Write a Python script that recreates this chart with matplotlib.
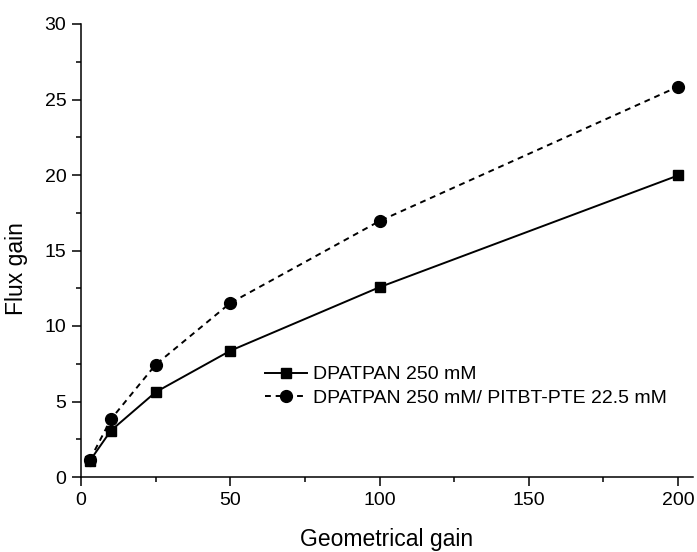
import numpy as np
import matplotlib
matplotlib.use('Agg')
import matplotlib.pyplot as plt
from matplotlib.ticker import MultipleLocator

plt.rcParams['font.family'] = ['Liberation Sans', 'DejaVu Sans']

geo_gain = [3, 10, 25, 50, 100, 200]
flux_dpatpan = [1.08, 3.07, 5.62, 8.36, 12.57, 19.97]
flux_dpatpan_pitbt = [1.15, 3.82, 7.44, 11.52, 16.95, 25.85]
label_1 = 'DPATPAN 250 mM'
label_2 = 'DPATPAN 250 mM/ PITBT-PTE 22.5 mM'

fig = plt.figure(figsize=(6.97, 5.52), dpi=100)
ax = fig.add_axes([81/697, 1 - 477/552, 612/697, 453/552])

ax.plot(geo_gain, flux_dpatpan, '-', color='black', lw=1.4,
        marker='s', markersize=7.5, label=label_1)
ax.plot(geo_gain, flux_dpatpan_pitbt, '--', color='black', lw=1.4,
        dashes=(3, 2.5), marker='o', markersize=8.5, label=label_2)

ax.set_xlim(0, 205)
ax.set_ylim(0, 30)
ax.xaxis.set_major_locator(MultipleLocator(50))
ax.xaxis.set_minor_locator(MultipleLocator(25))
ax.yaxis.set_major_locator(MultipleLocator(5))
ax.yaxis.set_minor_locator(MultipleLocator(2.5))

for s in ['top', 'right']:
    ax.spines[s].set_visible(False)
for s in ['left', 'bottom']:
    ax.spines[s].set_linewidth(1.1)

ax.tick_params(which='major', direction='out', length=6.5, width=1.1, labelsize=14, pad=4)
ax.tick_params(which='minor', direction='out', length=3.5, width=1.1)

ax.set_xlabel('Geometrical gain', fontsize=16.5, labelpad=14)
ax.set_ylabel('Flux gain', fontsize=16.5)
ax.yaxis.set_label_coords(-0.087, 0.46)

ax.legend(loc='center left', bbox_to_anchor=(0.30, 0.20), frameon=False,
          fontsize=14, handlelength=2.2, handletextpad=0.3,
          labelspacing=0.3, borderpad=0, borderaxespad=0)

plt.savefig('out.png', dpi=100)
